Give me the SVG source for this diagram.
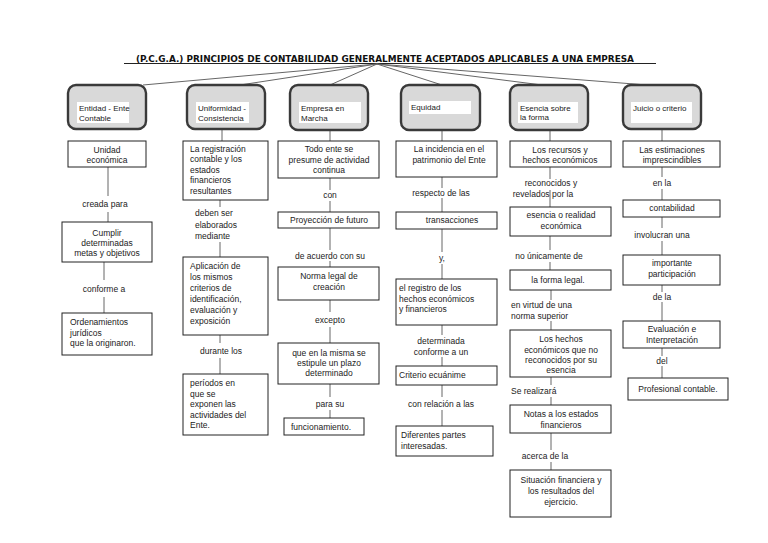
<svg xmlns="http://www.w3.org/2000/svg" width="768" height="543" viewBox="0 0 768 543">
<style>
text{font-family:"Liberation Sans",Arial,sans-serif;font-size:8.5px;fill:#222}
.c{text-anchor:middle}
.tl{font-size:8px}
.top{fill:#d9d9d9;stroke:#3a3a3a;stroke-width:2.4}
.lbl{fill:#fff}
.box{fill:#fff;stroke:#222;stroke-width:1}
.cn line{stroke:#666;stroke-width:1}
.title{font-family:"DejaVu Sans",Verdana,sans-serif;font-weight:bold;font-size:8.5px;fill:#111}
</style>
<rect width="768" height="543" fill="#fff"/>
<text class="title" x="136" y="61.5" textLength="498" lengthAdjust="spacingAndGlyphs">(P.C.G.A.) PRINCIPIOS DE CONTABILIDAD GENERALMENTE ACEPTADOS APLICABLES A UNA EMPRESA</text>
<g class="cn" id="connectors">
<line x1="124" y1="63.5" x2="656" y2="63.5" style="stroke:#222"/>
<line x1="377" y1="64" x2="143" y2="85"/>
<line x1="377" y1="64" x2="240" y2="85"/>
<line x1="377" y1="64" x2="330" y2="85"/>
<line x1="377" y1="64" x2="442" y2="85"/>
<line x1="377" y1="64" x2="542" y2="85"/>
<line x1="377" y1="64" x2="647" y2="85"/>
<!-- col1 -->
<line x1="108" y1="167" x2="108" y2="196"/>
<line x1="108" y1="212" x2="108" y2="222"/>
<line x1="104" y1="262" x2="104" y2="280"/>
<line x1="104" y1="297" x2="104" y2="313"/>
<!-- col2 -->
<line x1="222" y1="129" x2="222" y2="141"/>
<line x1="220" y1="200" x2="220" y2="207"/>
<line x1="220" y1="242" x2="220" y2="257"/>
<line x1="220" y1="335" x2="220" y2="343"/>
<line x1="220" y1="358" x2="220" y2="374"/>
<!-- col3 -->
<line x1="330" y1="130" x2="330" y2="141"/>
<line x1="330" y1="178" x2="330" y2="190"/>
<line x1="330" y1="201" x2="330" y2="212"/>
<line x1="330" y1="228" x2="330" y2="250"/>
<line x1="330" y1="261" x2="330" y2="267"/>
<line x1="330" y1="300" x2="330" y2="312"/>
<line x1="330" y1="327" x2="330" y2="343"/>
<line x1="330" y1="384" x2="330" y2="397"/>
<line x1="330" y1="410" x2="330" y2="418"/>
<!-- col4 -->
<line x1="442" y1="130" x2="442" y2="141"/>
<line x1="442" y1="177" x2="442" y2="188"/>
<line x1="442" y1="198" x2="442" y2="212"/>
<line x1="442" y1="229" x2="442" y2="252"/>
<line x1="442" y1="264" x2="442" y2="279"/>
<line x1="442" y1="325" x2="442" y2="335"/>
<line x1="442" y1="357" x2="442" y2="366"/>
<line x1="442" y1="385" x2="442" y2="397"/>
<line x1="442" y1="410" x2="442" y2="426"/>
<!-- col5 -->
<line x1="550" y1="130" x2="550" y2="141"/>
<line x1="550" y1="167" x2="550" y2="179"/>
<line x1="550" y1="190" x2="550" y2="207"/>
<line x1="550" y1="236" x2="550" y2="250"/>
<line x1="550" y1="262" x2="550" y2="270"/>
<line x1="551" y1="290" x2="551" y2="300"/>
<line x1="551" y1="321" x2="551" y2="330"/>
<line x1="551" y1="377" x2="551" y2="385"/>
<line x1="551" y1="397" x2="551" y2="405"/>
<line x1="551" y1="433" x2="551" y2="450"/>
<line x1="551" y1="462" x2="551" y2="470"/>
<!-- col6 -->
<line x1="662" y1="129" x2="662" y2="141"/>
<line x1="662" y1="167" x2="662" y2="177"/>
<line x1="662" y1="189" x2="662" y2="200"/>
<line x1="662" y1="217" x2="662" y2="228"/>
<line x1="662" y1="241" x2="662" y2="255"/>
<line x1="662" y1="285" x2="662" y2="292"/>
<line x1="662" y1="302" x2="662" y2="321"/>
<line x1="662" y1="348" x2="662" y2="356"/>
<line x1="662" y1="366" x2="662" y2="378"/>
</g>
<g id="labels">
<text class="c" x="105" y="207">creada para</text>
<text class="c" x="104" y="292">conforme a</text>
<text x="195" y="216">deben ser</text>
<text x="195" y="228">elaborados</text>
<text x="195" y="239">mediante</text>
<text class="c" x="221" y="354">durante los</text>
<text class="c" x="330" y="198">con</text>
<text class="c" x="330" y="259">de acuerdo con su</text>
<text class="c" x="330" y="323">excepto</text>
<text class="c" x="330" y="407">para su</text>
<text class="c" x="441" y="196">respecto de las</text>
<text class="c" x="442" y="260.5">y,</text>
<text class="c" x="441" y="344">determinada</text>
<text class="c" x="441" y="354.5">conforme a un</text>
<text class="c" x="441" y="407">con relación a las</text>
<text class="c" x="551" y="186">reconocidos y</text>
<text class="c" x="543" y="197">revelados por la</text>
<text class="c" x="549" y="259">no únicamente de</text>
<text x="511" y="308">en virtud de una</text>
<text x="511" y="319">norma superior</text>
<text x="511" y="394">Se realizará</text>
<text class="c" x="545" y="459">acerca de la</text>
<text class="c" x="662" y="186">en la</text>
<text class="c" x="662" y="238">involucran una</text>
<text class="c" x="662" y="300">de la</text>
<text class="c" x="662" y="364">del</text>
</g>
<!-- Column 1 -->
<g id="entidad"><rect class="top" x="68" y="85" width="78" height="44" rx="8"/><rect class="lbl" x="77" y="102" width="52" height="21"/><text class="tl" x="79" y="111">Entidad - Ente</text><text class="tl" x="79" y="121">Contable</text></g>
<g id="unidad"><rect class="box" x="68" y="141" width="78" height="26"/><text class="c" x="107" y="153">Unidad</text><text class="c" x="107" y="163">económica</text></g>
<g id="cumplir"><rect class="box" x="62" y="222" width="90" height="40"/><text class="c" x="107" y="236">Cumplir</text><text class="c" x="107" y="246">determinadas</text><text class="c" x="107" y="256">metas y objetivos</text></g>
<g id="ordenamientos"><rect class="box" x="62" y="313" width="90" height="42"/><text x="70" y="325">Ordenamientos</text><text x="70" y="336">jurídicos</text><text x="70" y="346">que la originaron.</text></g>
<!-- Column 2 -->
<g id="uniformidad"><rect class="top" x="187" y="85" width="78" height="44" rx="8"/><rect class="lbl" x="196" y="102" width="53" height="21"/><text class="tl" x="198" y="111">Uniformidad -</text><text class="tl" x="198" y="121">Consistencia</text></g>
<g id="registracion"><rect class="box" x="183" y="141" width="85" height="59"/><text x="190" y="151.5">La registración</text><text x="190" y="162">contable y los</text><text x="190" y="172.5">estados</text><text x="190" y="183">financieros</text><text x="190" y="193.5">resultantes</text></g>
<g id="aplicacion"><rect class="box" x="183" y="257" width="85" height="78"/><text x="190" y="269">Aplicación de</text><text x="190" y="280">los mismos</text><text x="190" y="291">criterios de</text><text x="190" y="302">identificación,</text><text x="190" y="313">evaluación y</text><text x="190" y="324">exposición</text></g>
<g id="periodos"><rect class="box" x="183" y="374" width="85" height="61"/><text x="190" y="386">períodos en</text><text x="190" y="396.5">que se</text><text x="190" y="407">exponen las</text><text x="190" y="417.5">actividades del</text><text x="190" y="428">Ente.</text></g>
<!-- Column 3 -->
<g id="empresa"><rect class="top" x="290" y="85" width="78" height="45" rx="8"/><rect class="lbl" x="299" y="102" width="62" height="21"/><text class="tl" x="301" y="111">Empresa en</text><text class="tl" x="301" y="121">Marcha</text></g>
<g id="todoente"><rect class="box" x="278" y="141" width="101" height="37"/><text class="c" x="329" y="152">Todo ente se</text><text class="c" x="329" y="162.5">presume de actividad</text><text class="c" x="329" y="173">continua</text></g>
<g id="proyeccion"><rect class="box" x="278" y="212" width="101" height="16"/><text class="c" x="329" y="223">Proyección de futuro</text></g>
<g id="norma"><rect class="box" x="278" y="267" width="101" height="33"/><text class="c" x="329" y="279">Norma legal de</text><text class="c" x="329" y="290">creación</text></g>
<g id="plazo"><rect class="box" x="278" y="343" width="101" height="41"/><text class="c" x="329" y="356">que en la misma se</text><text class="c" x="329" y="366">estipule un plazo</text><text class="c" x="329" y="376">determinado</text></g>
<g id="funcionamiento"><rect class="box" x="284" y="418" width="80" height="17"/><text x="291" y="429.5">funcionamiento.</text></g>
<!-- Column 4 -->
<g id="equidad"><rect class="top" x="401" y="85" width="79" height="45" rx="8"/><rect class="lbl" x="409" y="101" width="62" height="13"/><text class="tl" x="411" y="110">Equidad</text></g>
<g id="incidencia"><rect class="box" x="396" y="141" width="101" height="36"/><text class="c" x="449" y="152">La incidencia en el</text><text class="c" x="449" y="162.5">patrimonio del Ente</text></g>
<g id="transacciones"><rect class="box" x="396" y="212" width="101" height="17"/><text class="c" x="452" y="223">transacciones</text></g>
<g id="registro"><rect class="box" x="396" y="279" width="101" height="46"/><text x="399" y="291">el registro de los</text><text x="399" y="301.5">hechos económicos</text><text x="399" y="312">y financieros</text></g>
<g id="criterio"><rect class="box" x="396" y="366" width="101" height="19"/><text x="399" y="378">Criterio ecuánime</text></g>
<g id="diferentes"><rect class="box" x="396" y="426" width="97" height="30"/><text x="401" y="437.5">Diferentes partes</text><text x="401" y="449">interesadas.</text></g>
<!-- Column 5 -->
<g id="esencia"><rect class="top" x="510" y="85" width="78" height="45" rx="8"/><rect class="lbl" x="518" y="102" width="60" height="21"/><text class="tl" x="520" y="111">Esencia sobre</text><text class="tl" x="520" y="120">la forma</text></g>
<g id="recursos"><rect class="box" x="510" y="141" width="101" height="26"/><text class="c" x="560" y="152.5">Los recursos y</text><text class="c" x="560" y="163">hechos económicos</text></g>
<g id="realidad"><rect class="box" x="510" y="207" width="101" height="29"/><text class="c" x="561" y="218">esencia o realidad</text><text class="c" x="561" y="229">económica</text></g>
<g id="formalegal"><rect class="box" x="510" y="270" width="101" height="20"/><text class="c" x="558" y="282.5">la forma legal.</text></g>
<g id="hechos"><rect class="box" x="510" y="330" width="101" height="47"/><text class="c" x="561" y="342">Los hechos</text><text class="c" x="561" y="352.5">económicos que  no</text><text class="c" x="561" y="363">reconocidos por  su</text><text class="c" x="561" y="373">esencia</text></g>
<g id="notas"><rect class="box" x="510" y="405" width="101" height="28"/><text class="c" x="561" y="417">Notas a los estados</text><text class="c" x="561" y="428">financieros</text></g>
<g id="situacion"><rect class="box" x="510" y="470" width="101" height="47"/><text class="c" x="561" y="483">Situación financiera y</text><text class="c" x="561" y="494">los resultados del</text><text class="c" x="561" y="505">ejercicio.</text></g>
<!-- Column 6 -->
<g id="juicio"><rect class="top" x="623" y="85" width="78" height="44" rx="8"/><rect class="lbl" x="631" y="102" width="61" height="21"/><text class="tl" x="633" y="111">Juicio o criterio</text></g>
<g id="estimaciones"><rect class="box" x="623" y="141" width="97" height="26"/><text class="c" x="672" y="152.5">Las estimaciones</text><text class="c" x="672" y="162.5">imprescindibles</text></g>
<g id="contabilidad"><rect class="box" x="623" y="200" width="97" height="17"/><text class="c" x="672" y="211">contabilidad</text></g>
<g id="participacion"><rect class="box" x="623" y="255" width="97" height="30"/><text class="c" x="672" y="266">importante</text><text class="c" x="672" y="277">participación</text></g>
<g id="evaluacion"><rect class="box" x="623" y="321" width="97" height="27"/><text class="c" x="672" y="332">Evaluación e</text><text class="c" x="672" y="343">Interpretación</text></g>
<g id="profesional"><rect class="box" x="628" y="378" width="100" height="22"/><text class="c" x="678" y="391.5">Profesional contable.</text></g>
</svg>
